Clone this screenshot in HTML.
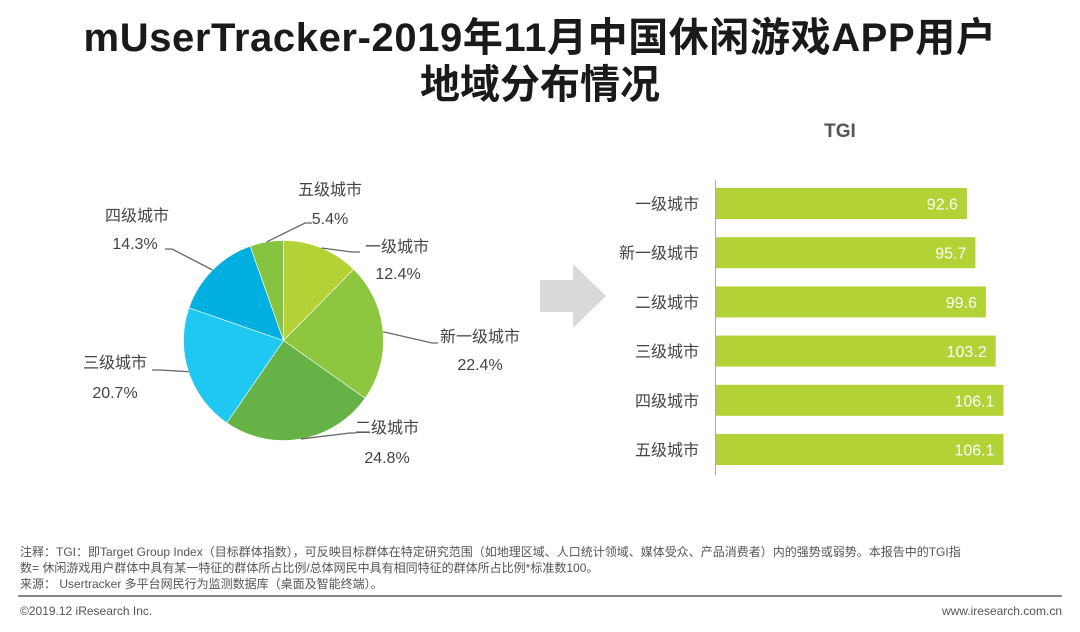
<!DOCTYPE html>
<html><head><meta charset="utf-8"><style>
body{margin:0;width:1080px;height:632px;background:#fff;font-family:"Liberation Sans","Noto Sans CJK SC",sans-serif;position:relative;overflow:hidden}
.t{position:absolute;left:0;width:1080px;text-align:center;font-weight:bold;font-size:40px;color:#1a1a1a;line-height:44px}
.note{position:absolute;left:20px;font-size:12px;color:#555}
</style></head><body>
<div class="t" style="top:16px;letter-spacing:0.6px">mUserTracker-2019年11月中国休闲游戏APP用户</div>
<div class="t" style="top:63px">地域分布情况</div>
<svg id="c" width="1080" height="632" style="position:absolute;left:0;top:0">
<polygon points="540,280 573,280 573,264 606,296 573,328 573,312 540,312" fill="#d9d9d9"/>
<text x="840" y="137" text-anchor="middle" font-size="19" font-weight="bold" fill="#555">TGI</text>
<line x1="715.5" y1="180" x2="715.5" y2="475" stroke="#aaa"/>
</svg>
<div class="note" style="top:544px;line-height:16px;width:1050px">注释：TGI：即Target Group Index（目标群体指数），可反映目标群体在特定研究范围（如地理区域、人口统计领域、媒体受众、产品消费者）内的强势或弱势。本报告中的TGI指<br>数= 休闲游戏用户群体中具有某一特征的群体所占比例/总体网民中具有相同特征的群体所占比例*标准数100。<br>来源： Usertracker 多平台网民行为监测数据库（桌面及智能终端）。</div>
<div style="position:absolute;left:18px;top:595px;width:1044px;height:2px;background:#888"></div>
<div class="note" style="top:604px">©2019.12 iResearch Inc.</div>
<div class="note" style="top:604px;left:auto;right:18px">www.iresearch.com.cn</div>
<script>
const categories=['一级城市','新一级城市','二级城市','三级城市','四级城市','五级城市'];
const shares=[12.4,22.4,24.8,20.7,14.3,5.4];
const tgi=[92.6,95.7,99.6,103.2,106.1,106.1];
const colors=['#b2d235','#8dc63f','#66b246','#1ec8f0','#00aedf','#86c440'];
const NS='http://www.w3.org/2000/svg';
const svg=document.getElementById('c');
function mk(t,a){const e=document.createElementNS(NS,t);for(const k in a)e.setAttribute(k,a[k]);svg.appendChild(e);return e;}
const cx=283.5,cy=340.5,r=100;
const total=shares.reduce((a,b)=>a+b,0);
function pt(a,rr){return [cx+rr*Math.sin(a),cy-rr*Math.cos(a)];}
const lab=[[397,246,398,273,[[352,252],[360,252]]],[480,336,480,364,[[432,343],[438,343]]],[387,427,387,457,[[350,433],[356,433]]],[115,362,115,392,[[160,370],[152,370]]],[137,215,135,243,[[172,249],[165,249]]],[330,189,330,218,[[305,223],[312,223]]]];
let acc=0;
shares.forEach((v,i)=>{
 const a0=acc/total*2*Math.PI;acc+=v;const a1=acc/total*2*Math.PI;
 const p0=pt(a0,r),p1=pt(a1,r);
 const s=mk('path',{d:`M${cx},${cy}L${p0[0]},${p0[1]}A${r},${r} 0 ${a1-a0>Math.PI?1:0} 1 ${p1[0]},${p1[1]}Z`,fill:colors[i],stroke:'#fff','stroke-width':0.6});
 
 
 const am=(a0+a1)/2,pe=pt(am,r),L=lab[i];
 const ln=mk('polyline',{points:`${pe[0]},${pe[1]} ${L[4][0][0]},${L[4][0][1]} ${L[4][1][0]},${L[4][1][1]}`,fill:'none',stroke:'#666','stroke-width':1.3});
 
 
 const t1=mk('text',{x:L[0],y:L[1]+6,'text-anchor':'middle','font-size':16,fill:'#444'});t1.textContent=categories[i];
 
 
 const t2=mk('text',{x:L[2],y:L[3]+6,'text-anchor':'middle','font-size':16,fill:'#444'});t2.textContent=v.toFixed(1)+'%';
 
 
});
const x0=716,k=2.71,y0=203.5,step=49.2,bh=31;
tgi.forEach((v,i)=>{
 const yc=y0+i*step,w=v*k;
 const b=mk('rect',{x:x0,y:yc-bh/2,width:w,height:bh,fill:'#b2d235'});
 
 
 const tv=mk('text',{x:x0+w-9,y:yc+6,'text-anchor':'end','font-size':16,fill:'#fff'});tv.textContent=v.toFixed(1);
 
 
 const tc=mk('text',{x:699,y:yc+6,'text-anchor':'end','font-size':16,fill:'#444'});tc.textContent=categories[i];
 
 
});
</script>
</body></html>
